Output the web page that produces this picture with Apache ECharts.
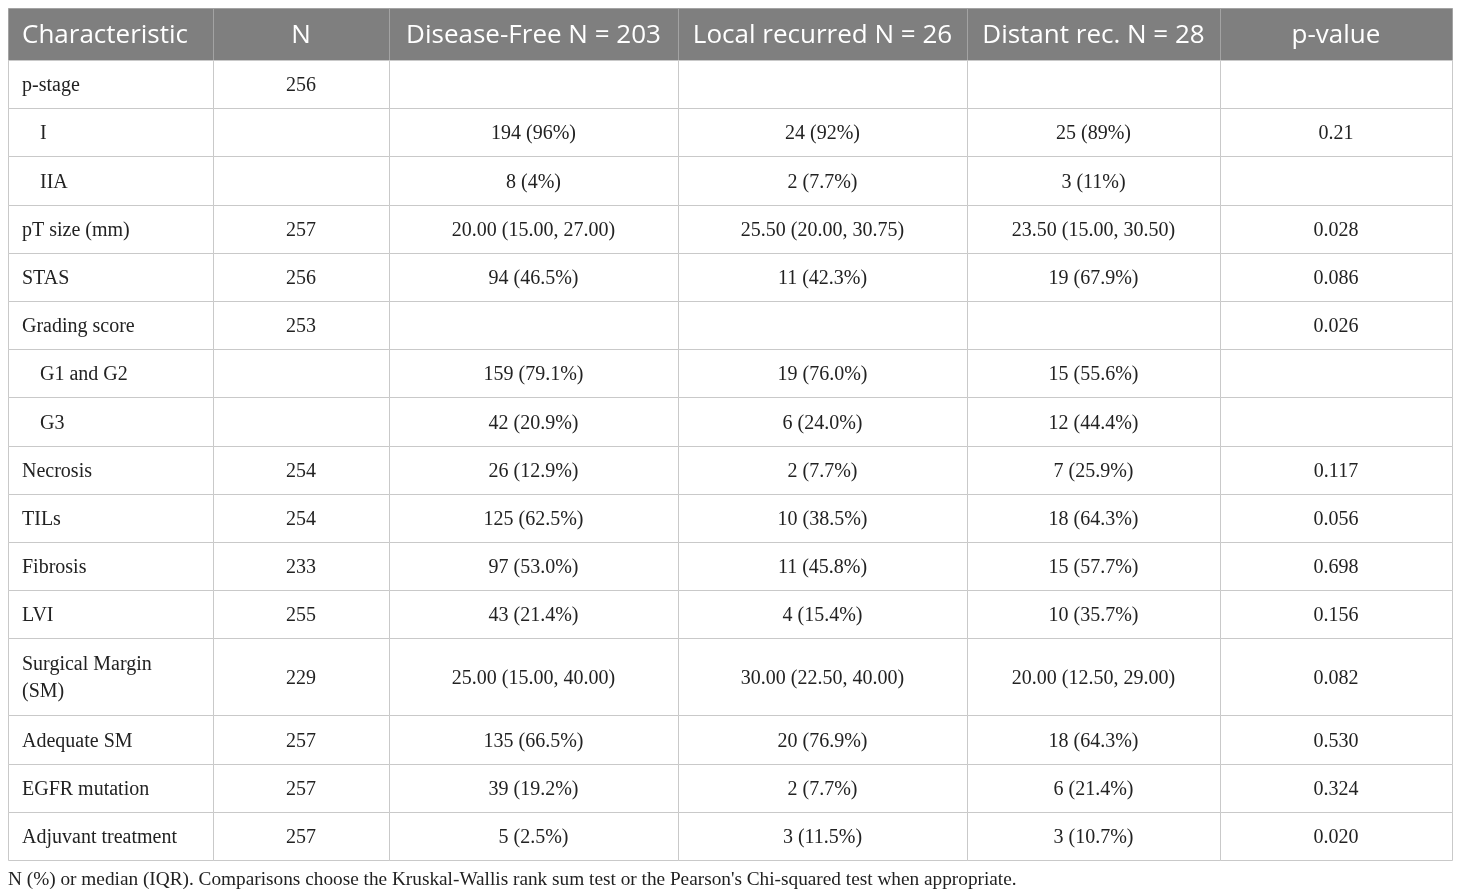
<!DOCTYPE html>
<html>
<head>
<meta charset="utf-8">
<script src="https://cdn.jsdelivr.net/npm/echarts@6/dist/echarts.min.js"></script>
<style>
html, body { margin: 0; padding: 0; background: #fff; }
#main { width: 1460px; height: 896px; }
</style>
</head>
<body>
<div id="main"></div>
<script>
// table content
var headers = ['Characteristic', 'N', 'Disease-Free N = 203', 'Local recurred N = 26', 'Distant rec. N = 28', 'p-value'];
var characteristics = ['p-stage', 'I', 'IIA', 'pT size (mm)', 'STAS', 'Grading score', 'G1 and G2', 'G3',
    'Necrosis', 'TILs', 'Fibrosis', 'LVI', 'Surgical Margin\n(SM)', 'Adequate SM', 'EGFR mutation', 'Adjuvant treatment'];
var subRows = ['I', 'IIA', 'G1 and G2', 'G3'];
var nValues = ['256', '', '', '257', '256', '253', '', '', '254', '254', '233', '255', '229', '257', '257', '257'];
var diseaseFree = ['', '194 (96%)', '8 (4%)', '20.00 (15.00, 27.00)', '94 (46.5%)', '', '159 (79.1%)', '42 (20.9%)',
    '26 (12.9%)', '125 (62.5%)', '97 (53.0%)', '43 (21.4%)', '25.00 (15.00, 40.00)', '135 (66.5%)', '39 (19.2%)', '5 (2.5%)'];
var localRec = ['', '24 (92%)', '2 (7.7%)', '25.50 (20.00, 30.75)', '11 (42.3%)', '', '19 (76.0%)', '6 (24.0%)',
    '2 (7.7%)', '10 (38.5%)', '11 (45.8%)', '4 (15.4%)', '30.00 (22.50, 40.00)', '20 (76.9%)', '2 (7.7%)', '3 (11.5%)'];
var distantRec = ['', '25 (89%)', '3 (11%)', '23.50 (15.00, 30.50)', '19 (67.9%)', '', '15 (55.6%)', '12 (44.4%)',
    '7 (25.9%)', '18 (64.3%)', '15 (57.7%)', '10 (35.7%)', '20.00 (12.50, 29.00)', '18 (64.3%)', '6 (21.4%)', '3 (10.7%)'];
var pValues = ['', '0.21', '', '0.028', '0.086', '0.026', '', '', '0.117', '0.056', '0.698', '0.156', '0.082', '0.530', '0.324', '0.020'];
var footnote = "N (%) or median (IQR). Comparisons choose the Kruskal-Wallis rank sum test or the Pearson's Chi-squared test when appropriate.";

// layout
var colWidths = [205, 176, 289, 289, 253, 232];
var headerH = 52;
var rowH1 = 48.2;   // one line row
var rowH2 = 77;     // two line row

var colEdges = [0];
colWidths.forEach(function (w, i) { colEdges.push(colEdges[i] + w); });

var rowEdges = [0, headerH];
characteristics.forEach(function (c, i) {
    var h = c.indexOf('\n') >= 0 ? rowH2 : rowH1;
    rowEdges.push(rowEdges[i + 1] + h);
});
var totalW = colEdges[colEdges.length - 1];
var totalH = rowEdges[rowEdges.length - 1];

// build cells: [x0, x1, y0, y1], plus text info
var cells = [];
headers.forEach(function (h, c) {
    cells.push({ value: [colEdges[c], colEdges[c + 1], rowEdges[0], rowEdges[1]], text: h, col: c, header: true });
});
var bodyCols = [characteristics, nValues, diseaseFree, localRec, distantRec, pValues];
characteristics.forEach(function (name, r) {
    bodyCols.forEach(function (arr, c) {
        cells.push({
            value: [colEdges[c], colEdges[c + 1], rowEdges[r + 1], rowEdges[r + 2]],
            text: arr[r], col: c, header: false,
            sub: c === 0 && subRows.indexOf(name) >= 0
        });
    });
});

function renderItem(params, api) {
    var cell = cells[params.dataIndex];
    var p0 = api.coord([api.value(0), api.value(2)]);
    var p1 = api.coord([api.value(1), api.value(3)]);
    var x0 = Math.round(p0[0]), y0 = Math.round(p0[1]);
    var x1 = Math.round(p1[0]), y1 = Math.round(p1[1]);
    var left = cell.col === 0;
    var tx = left ? x0 + (cell.sub ? 32 : 14) : (x0 + x1) / 2;
    return {
        type: 'group',
        children: [{
            type: 'rect',
            shape: { x: x0 + 0.5, y: y0 + 0.5, width: x1 - x0, height: y1 - y0 },
            style: {
                fill: cell.header ? '#7f7f7f' : '#fff',
                stroke: cell.header ? '#a3a3a3' : '#c9c9c9',
                lineWidth: 1
            }
        }, {
            type: 'text',
            style: {
                text: cell.text,
                x: tx,
                y: (y0 + y1) / 2 + 2,
                align: left ? 'left' : 'center',
                verticalAlign: 'middle',
                fill: cell.header ? '#fff' : '#222',
                font: cell.header ? '26px "Open Sans"' : '20px "Liberation Serif"',
                lineHeight: 27
            }
        }]
    };
}

var myChart = echarts.init(document.getElementById('main'));
var option = {
    backgroundColor: '#fff',
    animation: false,
    title: {
        text: footnote,
        left: 8,
        top: 870,
        padding: 0,
        textStyle: { fontFamily: 'Liberation Serif', fontSize: 19.3, fontWeight: 'normal', color: '#222' }
    },
    grid: { left: 8, top: 8, width: totalW, height: totalH },
    xAxis: { type: 'value', min: 0, max: totalW, show: false },
    yAxis: { type: 'value', min: 0, max: totalH, inverse: true, show: false },
    series: [{
        type: 'custom',
        renderItem: renderItem,
        clip: false,
        data: cells
    }]
};
myChart.setOption(option);
</script>
</body>
</html>
